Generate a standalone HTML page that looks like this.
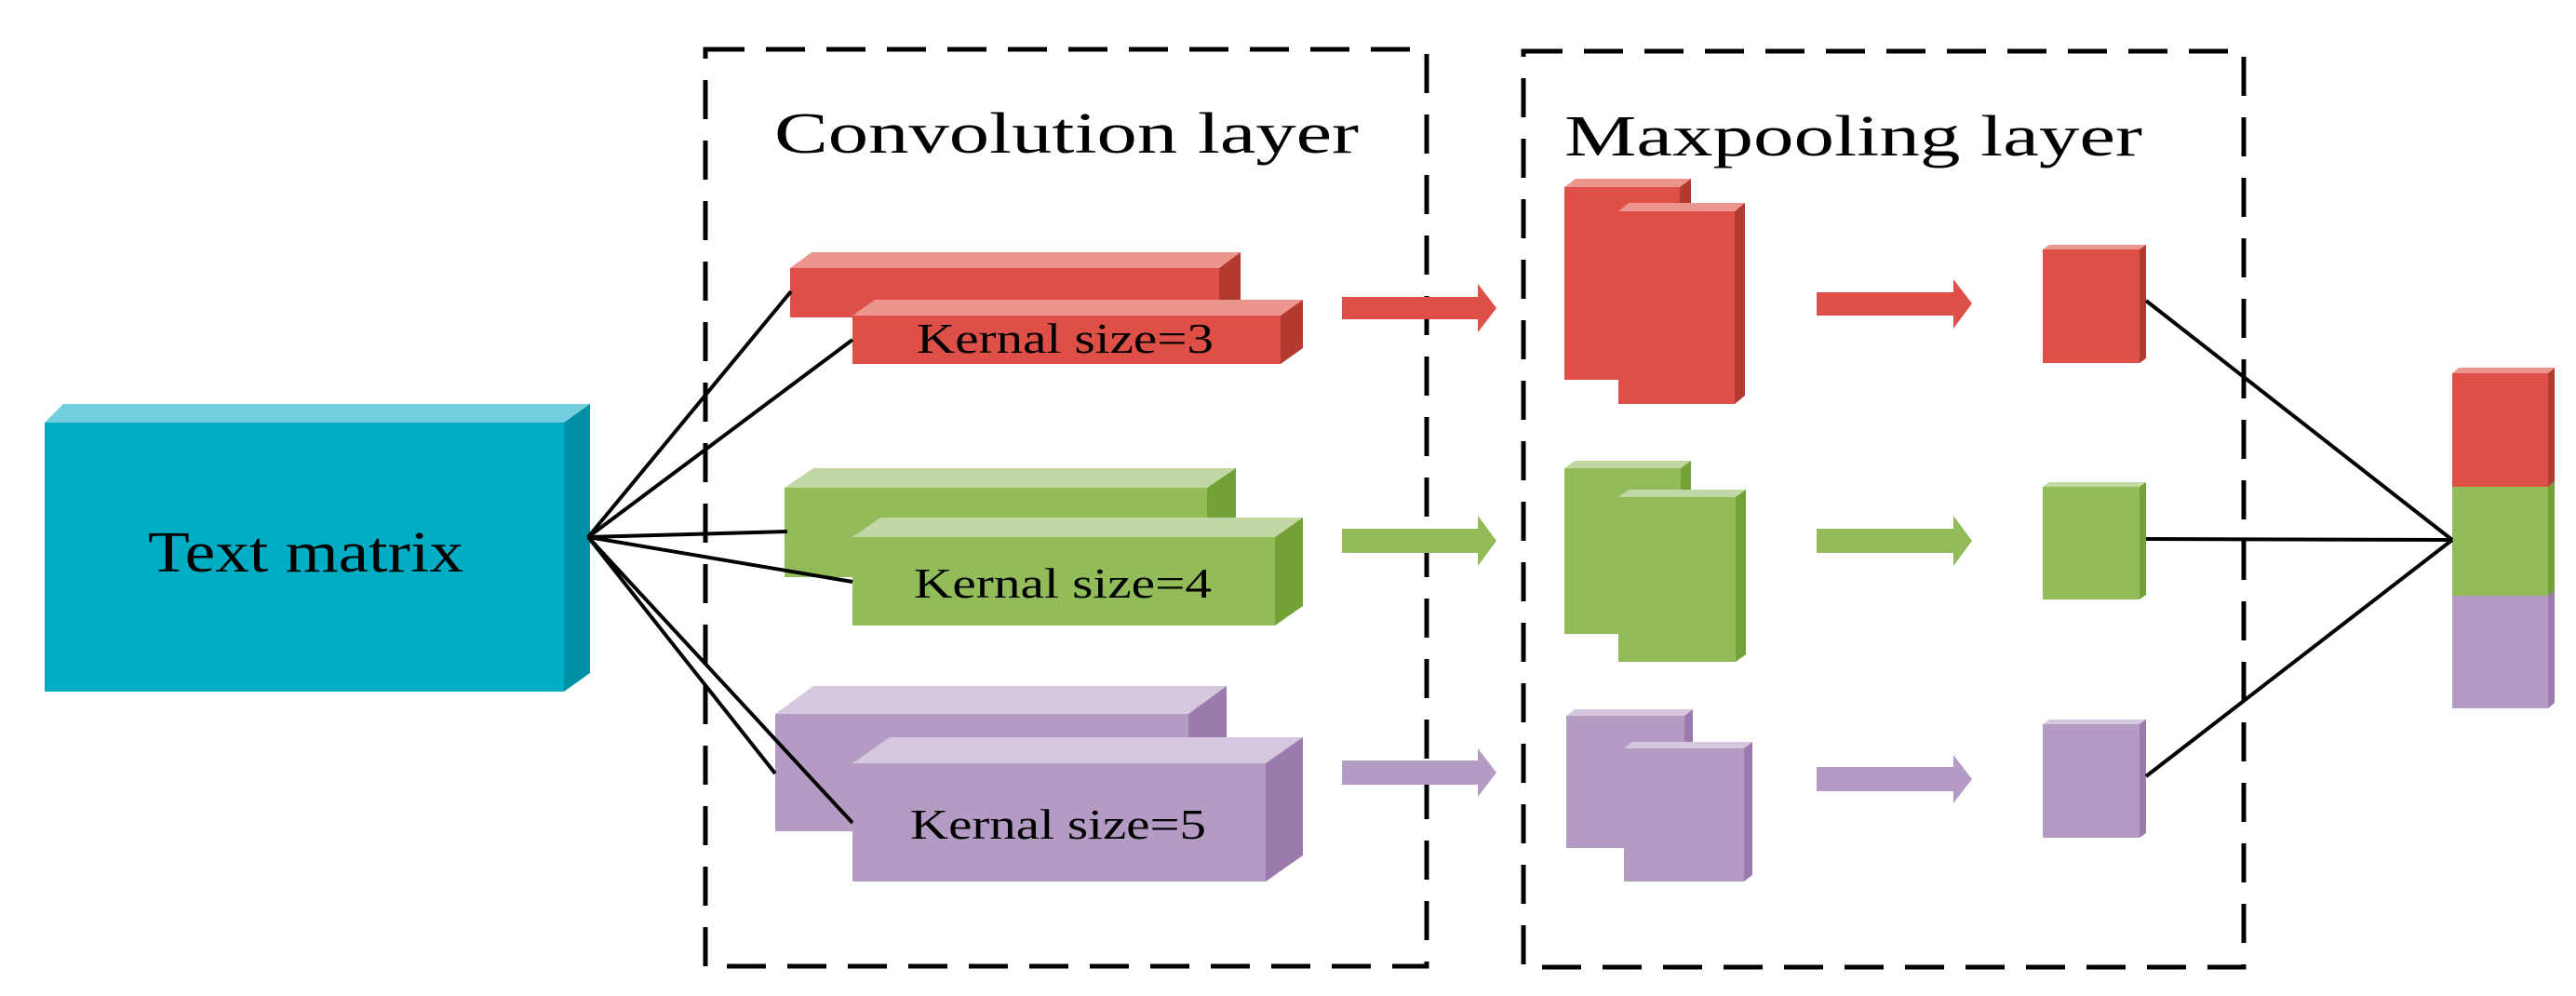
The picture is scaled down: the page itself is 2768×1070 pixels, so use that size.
<!DOCTYPE html>
<html><head><meta charset="utf-8"><style>html,body{margin:0;padding:0;background:#fff}svg{display:block}</style></head>
<body>
<svg width="2768" height="1070" viewBox="0 0 2768 1070" xmlns="http://www.w3.org/2000/svg" font-family="'Liberation Serif', serif">
<rect width="2768" height="1070" fill="#fff"/>
<g fill="none" stroke="#000" stroke-width="5" stroke-dasharray="42 23">
<rect x="758" y="53" width="775" height="985"/>
<rect x="1637" y="55" width="774" height="984"/>
</g>
<text x="832" y="164" font-size="62" textLength="628" lengthAdjust="spacingAndGlyphs">Convolution layer</text>
<text x="1681" y="167" font-size="62" textLength="621" lengthAdjust="spacingAndGlyphs">Maxpooling layer</text>

<!-- Text matrix -->
<polygon points="48,454 68,434 634,434 606,454" fill="#72CEDD"/>
<polygon points="606,454 634,434 634,723 606,743" fill="#0090A6"/>
<rect x="48" y="454" width="558" height="289" fill="#00ADC4"/>
<text x="159" y="614" font-size="62" textLength="339" lengthAdjust="spacingAndGlyphs">Text matrix</text>

<!-- Conv red -->
<polygon points="849,288 872,271 1333,271 1310,288" fill="#EC958D"/>
<polygon points="1310,288 1333,271 1333,324 1310,341" fill="#B33A30"/>
<rect x="849" y="288" width="461" height="53" fill="#DE5047"/>
<polygon points="916,339 940,322 1400,322 1376,339" fill="#EC958D"/>
<polygon points="1376,339 1400,322 1400,374 1376,391" fill="#B33A30"/>
<rect x="916" y="339" width="460" height="52" fill="#DE5047"/>
<text x="985" y="379" font-size="46" textLength="319" lengthAdjust="spacingAndGlyphs">Kernal size=3</text>

<!-- Conv green -->
<polygon points="843,524 874,503 1328,503 1297,524" fill="#C2D8A4"/>
<polygon points="1297,524 1328,503 1328,599 1297,620" fill="#72A236"/>
<rect x="843" y="524" width="454" height="96" fill="#92BC5A"/>
<polygon points="916,577 946,556 1400,556 1370,577" fill="#C2D8A4"/>
<polygon points="1370,577 1400,556 1400,651 1370,672" fill="#72A236"/>
<rect x="916" y="577" width="454" height="95" fill="#92BC5A"/>
<text x="982" y="642" font-size="46" textLength="320" lengthAdjust="spacingAndGlyphs">Kernal size=4</text>

<!-- Conv purple -->
<polygon points="833,767 874,737 1318,737 1277,767" fill="#D5C7DD"/>
<polygon points="1277,767 1318,737 1318,863 1277,893" fill="#9B7BAE"/>
<rect x="833" y="767" width="444" height="126" fill="#B39BC4"/>
<polygon points="916,820 956,792 1400,792 1360,820" fill="#D5C7DD"/>
<polygon points="1360,820 1400,792 1400,919 1360,947" fill="#9B7BAE"/>
<rect x="916" y="820" width="444" height="127" fill="#B39BC4"/>
<text x="978" y="901" font-size="46" textLength="318" lengthAdjust="spacingAndGlyphs">Kernal size=5</text>

<!-- fan lines -->
<g stroke="#000" stroke-width="4" fill="none">
<line x1="632" y1="577" x2="850" y2="313"/>
<line x1="632" y1="577" x2="916" y2="365"/>
<line x1="632" y1="577" x2="846" y2="571"/>
<line x1="632" y1="577" x2="916" y2="625"/>
<line x1="632" y1="577" x2="833" y2="831"/>
<line x1="632" y1="577" x2="916" y2="884"/>
</g>

<!-- arrows 1 -->
<polygon points="1442,319 1588,319 1588,305 1608,331 1588,357 1588,343 1442,343" fill="#DE5047"/>
<polygon points="1442,568 1588,568 1588,554 1608,581 1588,608 1588,594 1442,594" fill="#92BC5A"/>
<polygon points="1442,817 1588,817 1588,804 1608,830 1588,856 1588,843 1442,843" fill="#B39BC4"/>
<!-- arrows 2 -->
<polygon points="1952,314 2099,314 2099,300 2119,326 2099,353 2099,339 1952,339" fill="#DE5047"/>
<polygon points="1952,568 2099,568 2099,554 2119,581 2099,608 2099,594 1952,594" fill="#92BC5A"/>
<polygon points="1952,824 2099,824 2099,811 2119,837 2099,863 2099,850 1952,850" fill="#B39BC4"/>

<!-- maxpool red -->
<polygon points="1681,201 1693,192 1817,192 1805,201" fill="#EC958D"/>
<polygon points="1805,201 1817,192 1817,399 1805,408" fill="#B33A30"/>
<rect x="1681" y="201" width="124" height="207" fill="#DE5047"/>
<polygon points="1739,227 1750,218 1875,218 1864,227" fill="#EC958D"/>
<polygon points="1864,227 1875,218 1875,425 1864,434" fill="#B33A30"/>
<rect x="1739" y="227" width="125" height="207" fill="#DE5047"/>
<!-- maxpool green -->
<polygon points="1681,503 1692,495 1817,495 1806,503" fill="#C2D8A4"/>
<polygon points="1806,503 1817,495 1817,673 1806,681" fill="#72A236"/>
<rect x="1681" y="503" width="125" height="178" fill="#92BC5A"/>
<polygon points="1739,534 1750,526 1876,526 1865,534" fill="#C2D8A4"/>
<polygon points="1865,534 1876,526 1876,703 1865,711" fill="#72A236"/>
<rect x="1739" y="534" width="126" height="177" fill="#92BC5A"/>
<!-- maxpool purple -->
<polygon points="1683,769 1692,762 1819,762 1810,769" fill="#D5C7DD"/>
<polygon points="1810,769 1819,762 1819,904 1810,911" fill="#9B7BAE"/>
<rect x="1683" y="769" width="127" height="142" fill="#B39BC4"/>
<polygon points="1745,804 1754,797 1883,797 1874,804" fill="#D5C7DD"/>
<polygon points="1874,804 1883,797 1883,940 1874,947" fill="#9B7BAE"/>
<rect x="1745" y="804" width="129" height="143" fill="#B39BC4"/>

<!-- small boxes -->
<polygon points="2195,268 2202,263 2306,263 2299,268" fill="#EC958D"/>
<polygon points="2299,268 2306,263 2306,385 2299,390" fill="#B33A30"/>
<rect x="2195" y="268" width="104" height="122" fill="#DE5047"/>
<polygon points="2195,523 2202,518 2306,518 2299,523" fill="#C2D8A4"/>
<polygon points="2299,523 2306,518 2306,639 2299,644" fill="#72A236"/>
<rect x="2195" y="523" width="104" height="121" fill="#92BC5A"/>
<polygon points="2195,778 2202,773 2306,773 2299,778" fill="#D5C7DD"/>
<polygon points="2299,778 2306,773 2306,895 2299,900" fill="#9B7BAE"/>
<rect x="2195" y="778" width="104" height="122" fill="#B39BC4"/>

<!-- output column -->
<polygon points="2635,401 2642,395 2745,395 2738,401" fill="#EC958D"/>
<polygon points="2738,401 2745,395 2745,517 2738,523" fill="#B33A30"/>
<polygon points="2738,523 2745,517 2745,634 2738,640" fill="#72A236"/>
<polygon points="2738,640 2745,634 2745,755 2738,761" fill="#9B7BAE"/>
<rect x="2635" y="401" width="103" height="122" fill="#DE5047"/>
<rect x="2635" y="523" width="103" height="117" fill="#92BC5A"/>
<rect x="2635" y="640" width="103" height="121" fill="#B39BC4"/>

<g stroke="#000" stroke-width="4" fill="none">
<line x1="2306" y1="323" x2="2635" y2="580"/>
<line x1="2306" y1="579" x2="2635" y2="580"/>
<line x1="2306" y1="834" x2="2635" y2="580"/>
</g>
</svg>
</body></html>
